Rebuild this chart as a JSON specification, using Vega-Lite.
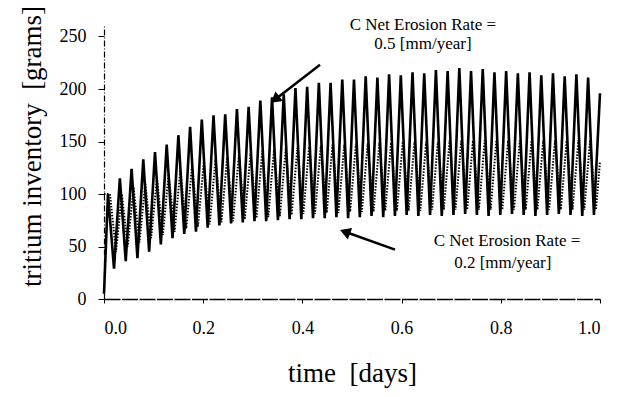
{
  "$schema": "https://vega.github.io/schema/vega-lite/v6.json",
  "width": 496,
  "height": 273,
  "autosize": "none",
  "padding": {"left": 104, "top": 26, "right": 23, "bottom": 98},
  "background": "white",
  "config": {"view": {"stroke": null}, "font": "Liberation Serif"},
  "datasets": {
    "solid": [
      {"t":0.0,"v":5},{"t":0.008,"v":100},{"t":0.0202,"v":29},
      {"t":0.032,"v":115},{"t":0.0438,"v":36},{"t":0.0556,"v":124},{"t":0.0674,"v":39},
      {"t":0.0792,"v":133},{"t":0.091,"v":45},{"t":0.1028,"v":140},{"t":0.1146,"v":52},
      {"t":0.1264,"v":147},{"t":0.1382,"v":58},{"t":0.15,"v":156},{"t":0.1618,"v":62},
      {"t":0.1736,"v":164},{"t":0.1854,"v":64},{"t":0.1972,"v":171},{"t":0.209,"v":68},
      {"t":0.2208,"v":175},{"t":0.2326,"v":70},{"t":0.2444,"v":176},{"t":0.2562,"v":72},
      {"t":0.268,"v":181},{"t":0.2798,"v":73},{"t":0.2916,"v":183},{"t":0.3034,"v":74},
      {"t":0.3152,"v":189},{"t":0.327,"v":74},{"t":0.3388,"v":192},{"t":0.3506,"v":75},
      {"t":0.3624,"v":195},{"t":0.3742,"v":76},{"t":0.386,"v":201},{"t":0.3978,"v":76},
      {"t":0.4096,"v":202},{"t":0.4214,"v":77},{"t":0.4332,"v":206},{"t":0.445,"v":77},
      {"t":0.4568,"v":206},{"t":0.4686,"v":78},{"t":0.4804,"v":209},{"t":0.4922,"v":77},
      {"t":0.504,"v":209},{"t":0.5158,"v":78},{"t":0.5276,"v":212},{"t":0.5394,"v":79},
      {"t":0.5512,"v":211},{"t":0.563,"v":78},{"t":0.5748,"v":214},{"t":0.5866,"v":79},
      {"t":0.5984,"v":213},{"t":0.6102,"v":80},{"t":0.622,"v":216},{"t":0.6338,"v":79},
      {"t":0.6456,"v":215},{"t":0.6574,"v":80},{"t":0.6692,"v":218},{"t":0.681,"v":79},
      {"t":0.6928,"v":217},{"t":0.7046,"v":80},{"t":0.7164,"v":220},{"t":0.7282,"v":81},
      {"t":0.74,"v":217},{"t":0.7518,"v":80},{"t":0.7636,"v":219},{"t":0.7754,"v":79},
      {"t":0.7872,"v":216},{"t":0.799,"v":80},{"t":0.8108,"v":217},{"t":0.8226,"v":81},
      {"t":0.8344,"v":215},{"t":0.8462,"v":80},{"t":0.858,"v":216},{"t":0.8698,"v":79},
      {"t":0.8816,"v":213},{"t":0.8934,"v":80},{"t":0.9052,"v":215},{"t":0.917,"v":81},
      {"t":0.9288,"v":212},{"t":0.9406,"v":80},{"t":0.9524,"v":214},{"t":0.9642,"v":79},
      {"t":0.976,"v":211},{"t":0.9878,"v":80},{"t":1.0,"v":196}
    ],
    "dotted": [
      {"t":0.0,"v":100},{"t":0.012,"v":100},{"t":0.0242,"v":45},
      {"t":0.036,"v":100},{"t":0.0478,"v":50},{"t":0.0596,"v":106},{"t":0.0714,"v":54},
      {"t":0.0832,"v":110},{"t":0.095,"v":58},{"t":0.1068,"v":115},{"t":0.1186,"v":61},
      {"t":0.1304,"v":119},{"t":0.1422,"v":64},{"t":0.154,"v":123},{"t":0.1658,"v":67},
      {"t":0.1776,"v":127},{"t":0.1894,"v":69},{"t":0.2012,"v":130},{"t":0.213,"v":71},
      {"t":0.2248,"v":133},{"t":0.2366,"v":73},{"t":0.2484,"v":135},{"t":0.2602,"v":74},
      {"t":0.272,"v":137},{"t":0.2838,"v":76},{"t":0.2956,"v":139},{"t":0.3074,"v":77},
      {"t":0.3192,"v":141},{"t":0.331,"v":78},{"t":0.3428,"v":142},{"t":0.3546,"v":79},
      {"t":0.3664,"v":143},{"t":0.3782,"v":80},{"t":0.39,"v":144},{"t":0.4018,"v":81},
      {"t":0.4136,"v":145},{"t":0.4254,"v":81},{"t":0.4372,"v":146},{"t":0.449,"v":82},
      {"t":0.4608,"v":147},{"t":0.4726,"v":82},{"t":0.4844,"v":147},{"t":0.4962,"v":83},
      {"t":0.508,"v":148},{"t":0.5198,"v":83},{"t":0.5316,"v":148},{"t":0.5434,"v":83},
      {"t":0.5552,"v":149},{"t":0.567,"v":84},{"t":0.5788,"v":149},{"t":0.5906,"v":84},
      {"t":0.6024,"v":150},{"t":0.6142,"v":84},{"t":0.626,"v":150},{"t":0.6378,"v":84},
      {"t":0.6496,"v":150},{"t":0.6614,"v":85},{"t":0.6732,"v":150},{"t":0.685,"v":85},
      {"t":0.6968,"v":151},{"t":0.7086,"v":85},{"t":0.7204,"v":151},{"t":0.7322,"v":85},
      {"t":0.744,"v":151},{"t":0.7558,"v":85},{"t":0.7676,"v":151},{"t":0.7794,"v":85},
      {"t":0.7912,"v":151},{"t":0.803,"v":85},{"t":0.8148,"v":151},{"t":0.8266,"v":85},
      {"t":0.8384,"v":151},{"t":0.8502,"v":85},{"t":0.862,"v":151},{"t":0.8738,"v":85},
      {"t":0.8856,"v":151},{"t":0.8974,"v":85},{"t":0.9092,"v":151},{"t":0.921,"v":85},
      {"t":0.9328,"v":151},{"t":0.9446,"v":85},{"t":0.9564,"v":151},{"t":0.9682,"v":85},
      {"t":0.98,"v":151},{"t":0.9918,"v":85},{"t":1.0,"v":131}
    ],
    "labels": [
      {"t":0.643,"v":261,"text":"C Net Erosion Rate ="},
      {"t":0.643,"v":243,"text":"0.5 [mm/year]"},
      {"t":0.8125,"v":55,"text":"C Net Erosion Rate ="},
      {"t":0.804,"v":34,"text":"0.2 [mm/year]"}
    ],
    "arrows": [
      {"id":1,"t":0.4355,"v":223,"t2":0.345,"v2":190},
      {"id":2,"t":0.5867,"v":47,"t2":0.4859,"v2":64}
    ]
  },
  "layer": [
    {
      "data": {"name": "dotted"},
      "mark": {"type": "line", "color": "black", "strokeWidth": 2, "strokeDash": [1.5, 1.5]},
      "encoding": {
        "x": {"field": "t", "type": "quantitative", "scale": {"domain": [0, 1]},
          "axis": {"values": [0, 0.2, 0.4, 0.6, 0.8, 1.0], "format": ".1f", "title": "time\u00a0\u00a0[days]",
            "grid": false, "domainColor": "black", "domainWidth": 1.6, "domainDash": [16, 1.5],
            "tickColor": "black", "tickSize": 4, "labelFontSize": 18, "labelColor": "black",
            "labelPadding": 16, "titleFontSize": 27, "titleFontWeight": "normal", "titleColor": "black",
            "titleAlign": "center", "titleBaseline": "middle", "titleX": 248, "titleY": 74}},
        "y": {"field": "v", "type": "quantitative", "scale": {"domain": [0, 250]},
          "axis": {"values": [0, 50, 100, 150, 200, 250], "title": "tritium inventory\u00a0\u00a0[grams]",
            "grid": false, "domainColor": "black", "domainWidth": 1.2, "domainDash": [6, 2, 1, 2],
            "tickColor": "black", "tickSize": 6, "labelFontSize": 18, "labelColor": "black",
            "labelPadding": 12, "titleFontSize": 27, "titleFontWeight": "normal", "titleColor": "black",
            "titleAngle": -90, "titleAlign": "center", "titleBaseline": "middle", "titleX": -72, "titleY": 120}}
      }
    },
    {
      "data": {"name": "solid"},
      "mark": {"type": "line", "color": "black", "strokeWidth": 2.6},
      "encoding": {
        "x": {"field": "t", "type": "quantitative"},
        "y": {"field": "v", "type": "quantitative"}
      }
    },
    {
      "data": {"name": "arrows"},
      "mark": {"type": "rule", "color": "black", "strokeWidth": 2.5},
      "encoding": {
        "x": {"field": "t", "type": "quantitative"},
        "y": {"field": "v", "type": "quantitative"},
        "x2": {"field": "t2"},
        "y2": {"field": "v2"}
      }
    },
    {
      "data": {"name": "arrows"},
      "transform": [{"filter": "datum.id == 1"}],
      "mark": {"type": "point", "shape": "triangle-up", "filled": true, "color": "black", "opacity": 1, "size": 150, "angle": 231},
      "encoding": {
        "x": {"field": "t2", "type": "quantitative"},
        "y": {"field": "v2", "type": "quantitative"}
      }
    },
    {
      "data": {"name": "arrows"},
      "transform": [{"filter": "datum.id == 2"}],
      "mark": {"type": "point", "shape": "triangle-up", "filled": true, "color": "black", "opacity": 1, "size": 150, "angle": 291},
      "encoding": {
        "x": {"field": "t2", "type": "quantitative"},
        "y": {"field": "v2", "type": "quantitative"}
      }
    },
    {
      "data": {"name": "labels"},
      "mark": {"type": "text", "font": "Liberation Serif", "fontSize": 17, "color": "black", "align": "center", "baseline": "middle"},
      "encoding": {
        "x": {"field": "t", "type": "quantitative"},
        "y": {"field": "v", "type": "quantitative"},
        "text": {"field": "text"}
      }
    }
  ]
}
